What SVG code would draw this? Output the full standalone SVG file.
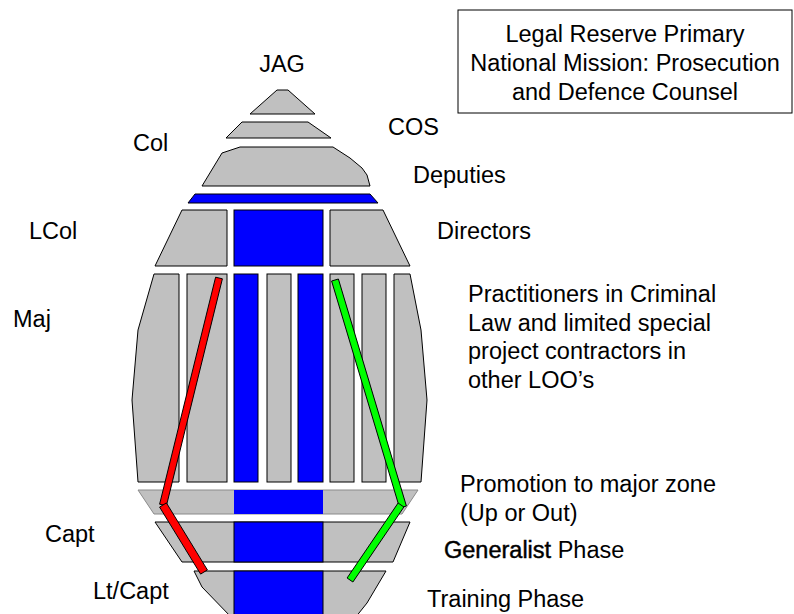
<svg xmlns="http://www.w3.org/2000/svg" width="794" height="614" viewBox="0 0 794 614">
<style>
.g{fill:#C0C0C0;stroke:#000;stroke-width:1}
.gp{fill:#C0C0C0;stroke:#8a8a8a;stroke-width:1}
.b{fill:#0000FF;stroke:#000;stroke-width:1}
.bn{fill:#0000FF;stroke:none}
.t{font-family:"Liberation Sans",Arial,sans-serif;font-size:23.5px;fill:#000}
.hv{stroke:#000;stroke-width:0.45}
.r{fill:#FF0000;stroke:#000;stroke-width:1}
.gr{fill:#00FF00;stroke:#000;stroke-width:1}
</style>
<rect width="794" height="614" fill="#fff"/>
<g id="jag"><polygon class="g" points="277,90 288,90 315,114 250,114"/></g>
<g id="cos"><polygon class="g" points="242,122 308,122 331,138 226,138"/></g>
<g id="col"><polygon class="g" points="202,186 222,153 240,147 333,147 350,158 362,168 367,175 370,186"/></g>
<g id="deputies"><polygon class="b" points="195,194 370,194 378,203 188,203"/></g>
<g id="directors">
<polygon class="g" points="182,210 227,210 227,266 155,266"/>
<rect class="b" x="234" y="210" width="89" height="56"/>
<polygon class="g" points="330,210 383,210 410,266 330,266"/>
</g>
<g id="maj">
<polygon class="g" points="154,274 179,274 179,482 138,482 132,400 138,330"/>
<rect class="g" x="187" y="274" width="40" height="208"/>
<rect class="b" x="234" y="274" width="24" height="208"/>
<rect class="g" x="267" y="274" width="24" height="208"/>
<rect class="b" x="298" y="274" width="25" height="208"/>
<rect class="g" x="330" y="274" width="24" height="208"/>
<rect class="g" x="362" y="274" width="24" height="208"/>
<polygon class="g" points="394,274 410,274 421,330 427,400 421,482 394,482"/>
</g>
<g id="promotion">
<polygon class="gp" points="138,490 418,490 402,514 154,514"/>
<rect class="bn" x="234" y="490" width="89" height="24"/>
</g>
<g id="capt">
<polygon class="g" points="155,522 410,522 393,562 182,562"/>
<rect class="b" x="234" y="522" width="89" height="40"/>
</g>
<g id="ltcapt">
<polygon class="g" points="194,571 386,571 367,603 355,618 232,618 202,587"/>
<rect class="b" x="234" y="571" width="89" height="47"/>
</g>
<g id="connectors">
<polygon class="r" points="222.4,278.8 215.6,277.2 159.6,504.2 166.4,505.8"/>
<polygon class="r" points="166.4,502.9 159.6,507.1 200.6,574.1 207.4,569.9"/>
<polygon class="gr" points="338.4,279 331.6,281 399.6,508 406.4,506"/>
<polygon class="gr" points="403.9,507 398.1,503 347.1,578 352.9,582"/>
</g>
<g id="mission-box">
<rect x="458" y="10" width="334" height="103" fill="#fff" stroke="#000" stroke-width="1"/>
<text class="t" text-anchor="middle" x="625" y="42">Legal Reserve Primary</text>
<text class="t" text-anchor="middle" x="625" y="71">National Mission: Prosecution</text>
<text class="t" text-anchor="middle" x="625" y="100">and Defence Counsel</text>
</g>
<g id="labels">
<text class="t" text-anchor="middle" x="282" y="72">JAG</text>
<text class="t" x="133" y="151">Col</text>
<text class="t" x="388" y="135">COS</text>
<text class="t" x="413" y="183">Deputies</text>
<text class="t" x="29" y="239">LCol</text>
<text class="t" x="437" y="239">Directors</text>
<text class="t" x="13" y="327">Maj</text>
<text class="t" x="468" y="302">Practitioners in Criminal</text>
<text class="t" x="468" y="331">Law and limited special</text>
<text class="t" x="468" y="359">project contractors in</text>
<text class="t" x="468" y="388">other LOO’s</text>
<text class="t" x="460" y="492">Promotion to major zone</text>
<text class="t" x="460" y="521">(Up or Out)</text>
<text class="t" x="45" y="542">Capt</text>
<text class="t" x="444" y="558"><tspan class="hv">Generalist</tspan> Phase</text>
<text class="t" x="93" y="599">Lt/Capt</text>
<text class="t" x="427" y="607">Training Phase</text>
</g>
</svg>
